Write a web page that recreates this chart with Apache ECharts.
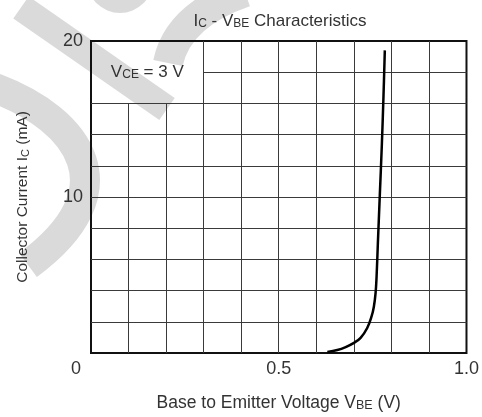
<!DOCTYPE html>
<html>
<head>
<meta charset="utf-8">
<script src="https://cdn.jsdelivr.net/npm/echarts@6/dist/echarts.min.js"></script>
<style>html,body{margin:0;padding:0;background:#fff}#c{width:482px;height:417px}</style>
</head>
<body>
<div id="c"></div>
<script>
// ---- data ----
const vbe = [0.6294, 0.6560, 0.6782, 0.7003, 0.7180, 0.7356, 0.7472, 0.7533, 0.7578, 0.7605, 0.7639, 0.7692, 0.7745, 0.7790, 0.7825];
const ic  = [0.06, 0.19, 0.38, 0.65, 0.97, 1.60, 2.34, 2.97, 3.82, 4.87, 6.98, 10.15, 13.30, 16.50, 19.40];
const xGrid = [0.1, 0.2, 0.3, 0.4, 0.5, 0.6, 0.7, 0.8, 0.9];
const yGrid = [2, 4, 6, 8, 10, 12, 14, 16, 18];
const xTickLabels = ['0', '0.5', '1.0'];
const yTickLabels = ['', '10', '20'];
const noteText = 'V{s|CE} = 3 V';
const noteBoxX = [0, 0.3];
const noteBoxY = [16, 20];

const FONT = 'Liberation Sans';
const TXT = '#333';

const gridLines = [];
xGrid.forEach(x => {
  const inBox = x > noteBoxX[0] && x < noteBoxX[1];
  gridLines.push([{coord: [x, 0]}, {coord: [x, inBox ? noteBoxY[0] : 20]}]);
});
yGrid.forEach(y => {
  const inBox = y > noteBoxY[0] && y < noteBoxY[1];
  gridLines.push([{coord: [inBox ? noteBoxX[1] : 0, y]}, {coord: [1, y]}]);
});

const chart = echarts.init(document.getElementById('c'), null, {renderer: 'canvas'});
const wm = '#dadada';
const sub = (fs, pad) => ({s: {fontFamily: FONT, fontSize: fs, color: TXT, verticalAlign: 'bottom', padding: [pad, 0, 0, 0]}});
const option = {
  animation: false,
  backgroundColor: '#fff',
  title: {
    text: 'I{s|C} - V{s|BE} Characteristics',
    left: 275, top: 8, textAlign: 'center',
    textStyle: {fontFamily: FONT, fontSize: 17, fontWeight: 'normal', color: TXT, rich: sub(12, 3)}
  },
  grid: {left: 91, right: 14, top: 41, bottom: 60, show: true, borderColor: '#111', borderWidth: 2, backgroundColor: 'transparent'},
  xAxis: {
    type: 'value', min: 0, max: 1, interval: 0.5,
    name: 'Base to Emitter Voltage V{s|BE} (V)', nameLocation: 'middle', nameGap: 41,
    nameTextStyle: {fontFamily: FONT, fontSize: 17.5, color: TXT, rich: sub(12.5, 3)},
    axisLine: {show: false}, axisTick: {show: false}, splitLine: {show: false},
    axisLabel: {
      margin: 7, fontFamily: FONT, fontSize: 18, color: TXT,
      formatter: function (v) {
        const i = Math.round(v / 0.5);
        const t = xTickLabels[i] || '';
        return i === 0 ? '{z|' + t + '}' : t;
      },
      rich: {z: {fontFamily: FONT, fontSize: 18, color: TXT, padding: [0, 30, 0, 0]}}
    }
  },
  yAxis: {
    type: 'value', min: 0, max: 20, interval: 10,
    name: 'Collector Current I{s|C} (mA)', nameLocation: 'middle', nameGap: 60, nameRotate: 90,
    nameTextStyle: {fontFamily: FONT, fontSize: 15.5, color: TXT, rich: sub(11, 3)},
    axisLine: {show: false}, axisTick: {show: false}, splitLine: {show: false},
    axisLabel: {
      margin: 8, fontFamily: FONT, fontSize: 18, color: TXT,
      formatter: function (v) { return yTickLabels[Math.round(v / 10)] || ''; }
    }
  },
  graphic: [
    {type: 'line', z: -10, shape: {x1: 21, y1: 7.5, x2: 167, y2: 109}, style: {stroke: wm, lineWidth: 27}},
    {type: 'bezierCurve', z: -10, shape: {x1: 168, y1: 63, cpx1: 178, cpy1: 15, x2: 245, y2: -8}, style: {fill: null, stroke: wm, lineWidth: 30}},
    {type: 'bezierCurve', z: -10, shape: {x1: -5, y1: 88, cpx1: 80, cpy1: 120, cpx2: 130, cpy2: 190, x2: 28, y2: 265}, style: {fill: null, stroke: wm, lineWidth: 30}},
    {type: 'circle', z: -10, shape: {cx: 120, cy: -20, r: 33}, style: {fill: wm}}
  ],
  series: [
    {
      type: 'line', data: [], silent: true, z: 1,
      markLine: {
        silent: true, symbol: 'none', animation: false,
        label: {show: false},
        lineStyle: {color: '#3a3a3a', width: 1, type: 'solid'},
        emphasis: {disabled: true},
        data: gridLines
      }
    },
    {
      type: 'line', z: 5, smooth: 0.4, showSymbol: false, symbol: 'none',
      lineStyle: {color: '#000', width: 2.5},
      data: vbe.map((x, i) => [x, ic[i]])
    }
  ]
};
chart.setOption(option);
const p = chart.convertToPixel({gridIndex: 0}, [(noteBoxX[0] + noteBoxX[1]) / 2, (noteBoxY[0] + noteBoxY[1]) / 2]);
chart.setOption({graphic: option.graphic.concat([{
  type: 'text', z: 10, x: p[0], y: p[1],
  style: {text: noteText, fontFamily: FONT, fontSize: 17, fill: TXT, align: 'center', verticalAlign: 'middle',
    rich: {s: {fontFamily: FONT, fontSize: 12, fill: TXT, verticalAlign: 'bottom', padding: [4, 0, 0, 0]}}}
}])});
</script>
</body>
</html>
